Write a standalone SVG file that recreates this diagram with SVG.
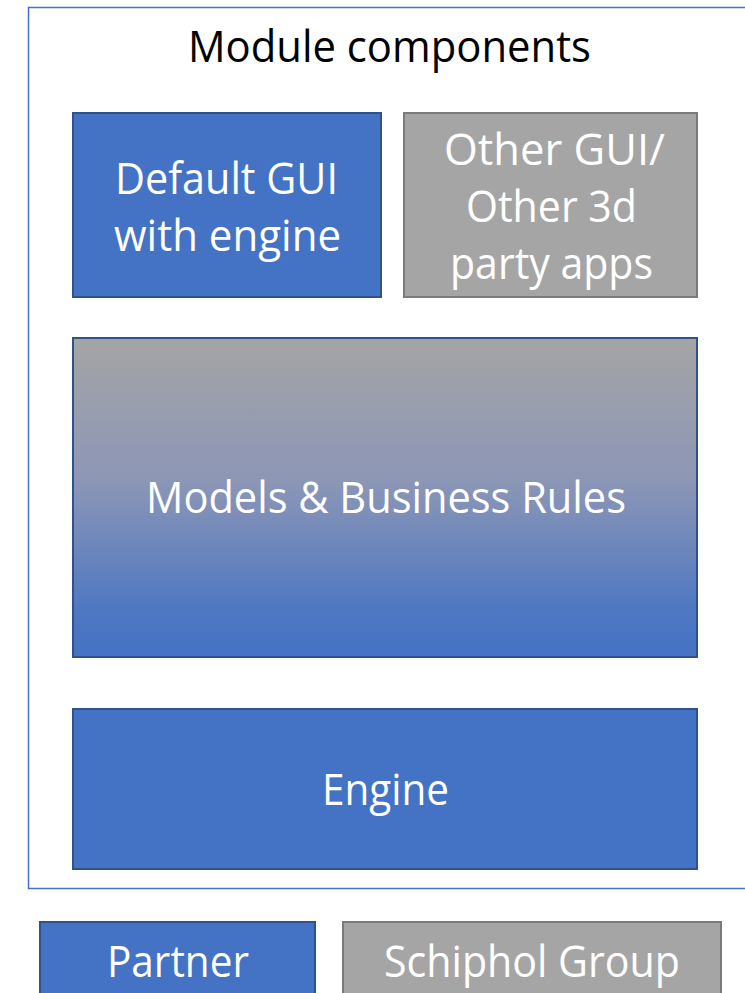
<svg xmlns="http://www.w3.org/2000/svg" width="745" height="993" viewBox="0 0 745 993">
<defs>
<linearGradient id="gModels" x1="0" y1="0" x2="0" y2="1">
<stop offset="0" stop-color="#A5A5A5"/>
<stop offset="0.45" stop-color="#8C96B6"/>
<stop offset="0.85" stop-color="#4F78C2"/>
<stop offset="1" stop-color="#4472C4"/>
</linearGradient>
</defs>
<style>
.blue{fill:#4472C4;stroke:#2F528F;stroke-width:2}
.gray{fill:#A5A5A5;stroke:#7B7B7B;stroke-width:2}
.grad{fill:url(#gModels);stroke:#2F528F;stroke-width:2}
.frame{fill:#FFFFFF;stroke:#4472C4;stroke-width:1.5}
.t{font-family:"Open Sans","Liberation Sans",sans-serif;font-size:43px;text-anchor:middle;fill:#FFFFFF}
.title{fill:#000000}
</style>
<g id="module-components">
<rect class="frame" x="28.5" y="7.5" width="730" height="881"/>
<text class="t title" x="389.5" y="62" textLength="403" lengthAdjust="spacingAndGlyphs">Module components</text>
</g>
<g id="default-gui">
<rect class="blue" x="73" y="113" width="308" height="184"/>
<text class="t" x="226.5" y="194" textLength="223" lengthAdjust="spacingAndGlyphs">Default GUI</text>
<text class="t" x="227.5" y="251" textLength="227" lengthAdjust="spacingAndGlyphs">with engine</text>
</g>
<g id="other-gui">
<rect class="gray" x="404" y="113" width="293" height="184"/>
<text class="t" x="554.5" y="165" textLength="221" lengthAdjust="spacingAndGlyphs">Other GUI/</text>
<text class="t" x="551.5" y="222" textLength="171" lengthAdjust="spacingAndGlyphs">Other 3d</text>
<text class="t" x="551.5" y="279" textLength="203" lengthAdjust="spacingAndGlyphs">party apps</text>
</g>
<g id="models">
<rect class="grad" x="73" y="338" width="624" height="319"/>
<text class="t" x="386" y="513" textLength="480" lengthAdjust="spacingAndGlyphs">Models &amp; Business Rules</text>
</g>
<g id="engine">
<rect class="blue" x="73" y="709" width="624" height="160"/>
<text class="t" x="385.5" y="805" textLength="127" lengthAdjust="spacingAndGlyphs">Engine</text>
</g>
<g id="legend-partner">
<rect class="blue" x="40" y="922" width="275" height="80"/>
<text class="t" x="178" y="977" textLength="142" lengthAdjust="spacingAndGlyphs">Partner</text>
</g>
<g id="legend-schiphol">
<rect class="gray" x="343" y="922" width="378" height="80"/>
<text class="t" x="532" y="977" textLength="296" lengthAdjust="spacingAndGlyphs">Schiphol Group</text>
</g>
<g id="connectors"/>
</svg>
